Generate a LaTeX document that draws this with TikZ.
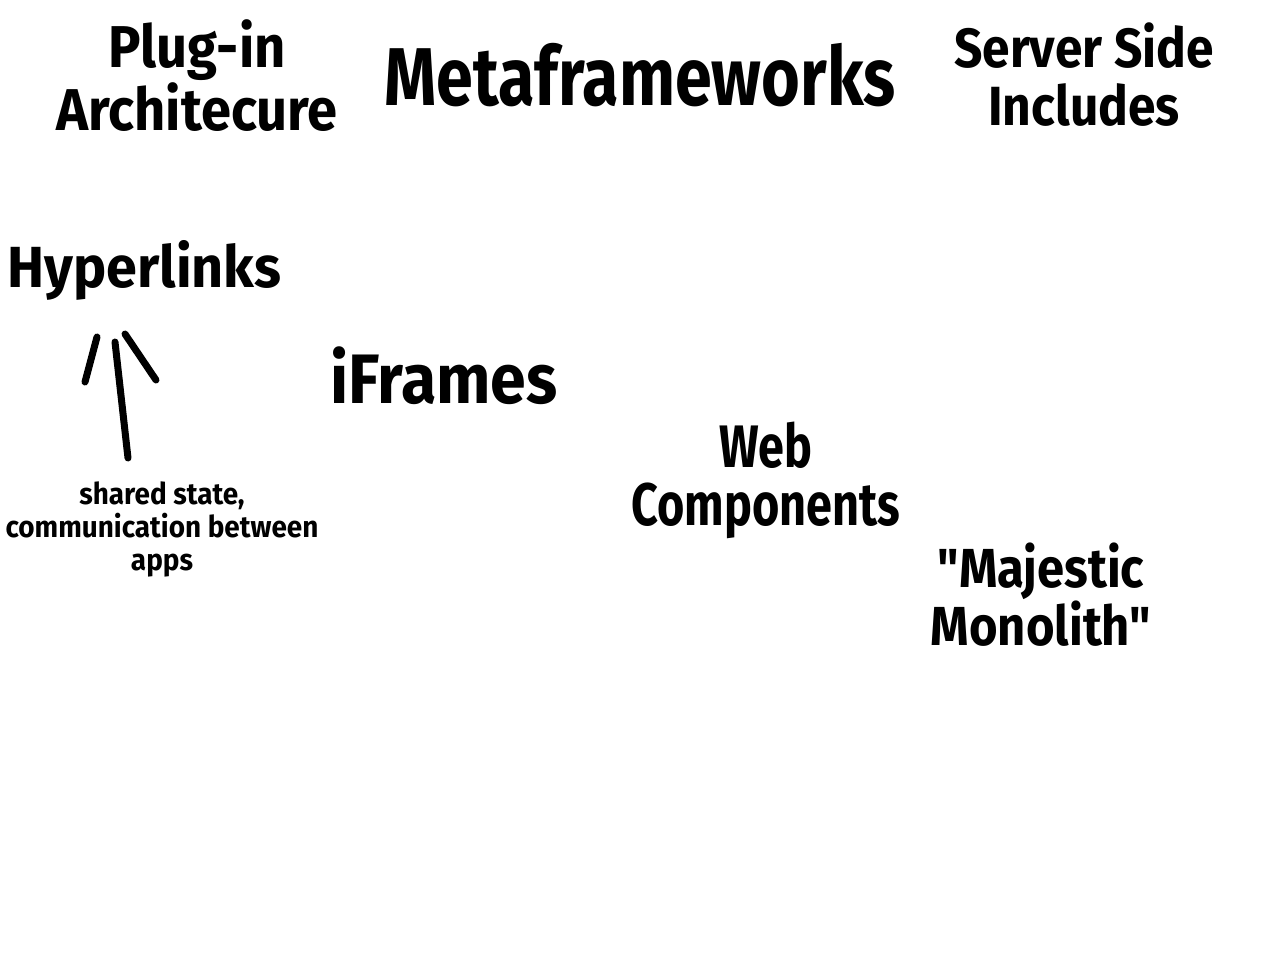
\documentclass[tikz,border=0pt]{standalone}
\usepackage{fontspec}
\setmainfont{Fira Sans}[Ligatures=TeXOff]
\begin{document}
\begin{tikzpicture}[x=0.5pt,y=-0.5pt,
  lbl/.style={align=center, anchor=base, inner sep=0pt, transform shape},
  fs/.style={font=\fontsize{#1}{29}\selectfont\bfseries},
  small/.style={font=\fontsize{15}{16.5}\selectfont\bfseries},
  stroke/.style={line width=3.5pt, line cap=round}]
\fill[white] (0,0) rectangle (1280,960);
\useasboundingbox (0,0) rectangle (1280,960);
\node[lbl, fs=29.5, xscale=0.92] (plugin) at (197,130) {Plug-in\\Architecure};
\node[lbl, fs=41, xscale=0.81] (meta) at (640,105) {Metaframeworks};
\node[lbl, fs=27.6, xscale=0.9] (ssi) at (1084,125) {Server Side\\Includes};
\node[lbl, fs=29, xscale=0.96, anchor=base west] (hyper) at (7,287) {Hyperlinks};
\node[lbl, fs=35, xscale=0.92, anchor=base west] (iframes) at (330,403) {iFrames};
\node[lbl, fs=30, xscale=0.78] (webc) at (766,525) {Web\\Components};
\node[lbl, small, xscale=0.93] (shared) at (162,570) {shared state,\\communication between\\apps};
\node[lbl, fs=27.5, xscale=0.89] (mono) at (1041,645) {"Majestic\\Monolith"};
\coordinate (tail) at (128,458);
\coordinate (tip) at (115,342);
\coordinate (l1) at (97,337);
\coordinate (l2) at (85,382);
\coordinate (r1) at (125,334);
\coordinate (r2) at (156,380);
\draw[stroke] (tail) -- (tip);
\draw[stroke] (l1) -- (l2);
\draw[stroke] (r1) -- (r2);
\end{tikzpicture}
\end{document}
